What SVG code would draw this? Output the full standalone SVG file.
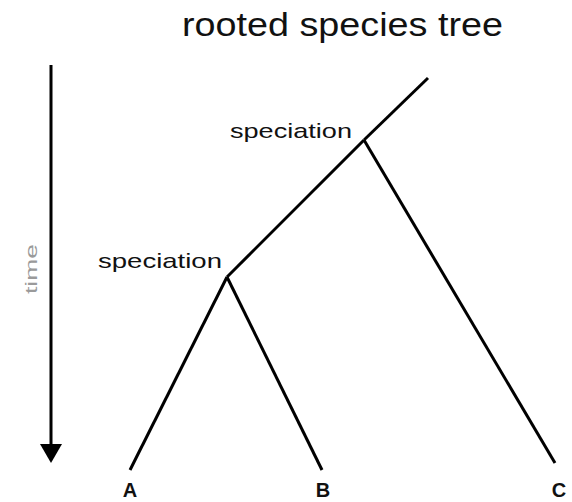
<svg xmlns="http://www.w3.org/2000/svg" width="572" height="502" viewBox="0 0 572 502">
<defs>
<style>
.t{font-family:"Liberation Sans",Arial,sans-serif;fill:#111}
.br{stroke:#000;stroke-width:3;fill:none;stroke-linecap:butt}
.leaf{font-size:20px;font-weight:bold;text-anchor:middle}
</style>
</defs>
<rect width="572" height="502" fill="#fff"/>
<text id="title" class="t" x="182" y="36" font-size="33" textLength="321" lengthAdjust="spacingAndGlyphs">rooted species tree</text>
<g id="time-axis">
<line x1="51" y1="65" x2="51" y2="444" stroke="#000" stroke-width="3"/>
<path d="M40,444 L62,444 L51,463 Z" fill="#000"/>
<text class="t" x="0" y="0" font-size="17" style="fill:#9a9a9a" transform="translate(37,269) rotate(-90)" text-anchor="middle" textLength="50" lengthAdjust="spacingAndGlyphs">time</text>
</g>
<g id="connectors">
<line class="br" x1="428" y1="78" x2="364" y2="140"/>
<line class="br" x1="364" y1="140" x2="227" y2="277"/>
<line class="br" x1="364" y1="140" x2="555" y2="463"/>
<line class="br" x1="227" y1="277" x2="130" y2="470"/>
<line class="br" x1="227" y1="277" x2="322" y2="470"/>
</g>
<g id="speciation1">
<text class="t" x="230" y="138" font-size="21" textLength="122" lengthAdjust="spacingAndGlyphs">speciation</text>
</g>
<g id="speciation2">
<text class="t" x="98" y="268" font-size="21" textLength="124" lengthAdjust="spacingAndGlyphs">speciation</text>
</g>
<g id="leafA"><text class="t leaf" x="130" y="497">A</text></g>
<g id="leafB"><text class="t leaf" x="323" y="497">B</text></g>
<g id="leafC"><text class="t leaf" x="559" y="497">C</text></g>
</svg>
